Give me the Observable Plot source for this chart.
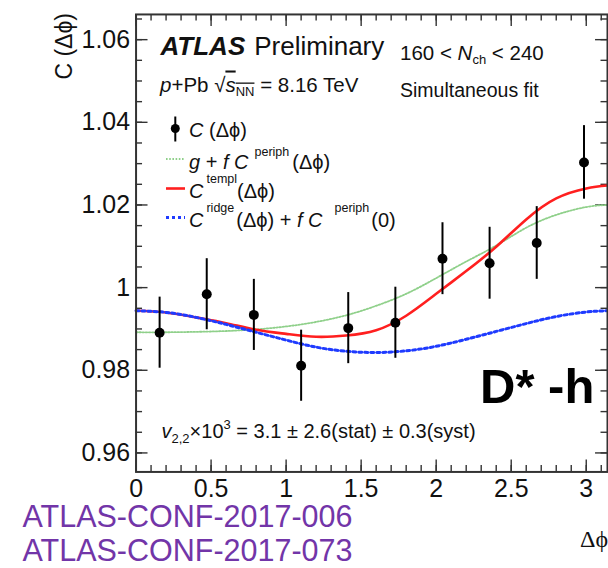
<!DOCTYPE html>
<html><head><meta charset="utf-8">
<script src="https://cdn.jsdelivr.net/npm/d3@7"></script>
<script src="https://cdn.jsdelivr.net/npm/@observablehq/plot@0.6"></script>
<style>
html,body{margin:0;padding:0;background:#fff;overflow:hidden;}
#wrap{position:relative;width:608px;height:568px;overflow:hidden;background:#fff;}
#wrap > svg{position:absolute;left:0;top:0;}
</style></head><body><div id="wrap"></div>
<script>
// ---- data ----
const binCenters = [0.157, 0.471, 0.785, 1.100, 1.414, 1.728, 2.042, 2.356, 2.670, 2.985];
const cValues    = [0.9891, 0.9984, 0.9934, 0.9811, 0.9902, 0.9915, 1.0070, 1.0059, 1.0108, 1.0303];
const cErrors    = [0.0086, 0.0086, 0.0086, 0.0086, 0.0086, 0.0086, 0.0087, 0.0087, 0.0088, 0.0089];

const curveX     = [0, 0.2, 0.4, 0.6, 0.8, 1.0, 1.2, 1.4, 1.6, 1.8, 2.0, 2.2, 2.4, 2.6, 2.8, 3.0, 3.1416];
const templ      = [0.9944, 0.9940, 0.9928, 0.9914, 0.9898, 0.9888, 0.9881, 0.9884, 0.9897, 0.9932, 0.9985, 1.0040, 1.0099, 1.0165, 1.0216, 1.0240, 1.0247];
const gPeriph    = [0.9892, 0.9892, 0.9893, 0.9895, 0.9899, 0.9906, 0.9917, 0.9933, 0.9956, 0.9985, 1.0023, 1.0063, 1.0102, 1.0145, 1.0176, 1.0195, 1.0200];
const ridge      = [0.9944, 0.9940, 0.9928, 0.9911, 0.9892, 0.9873, 0.9856, 0.9846, 0.9843, 0.9847, 0.9858, 0.9875, 0.9894, 0.9913, 0.9930, 0.9941, 0.9944];

const xTicks      = [0, 0.5, 1, 1.5, 2, 2.5, 3];
const xTickLabels = ["0", "0.5", "1", "1.5", "2", "2.5", "3"];
const yTicks      = [0.96, 0.98, 1, 1.02, 1.04, 1.06];
const yTickLabels = ["0.96", "0.98", "1", "1.02", "1.04", "1.06"];

// ---- layout ----
const W = 610, H = 568, mL = 136, mR = 1, mT = 14, mB = 95;
const innerW = W - mL - mR, innerH = H - mT - mB;
const MAJ = 12, MIN = 6.5;

// ---- build tables ----
const pts = binCenters.map((x, i) => ({x, y: cValues[i], lo: cValues[i] - cErrors[i], hi: cValues[i] + cErrors[i]}));
const mk = arr => curveX.map((x, i) => ({x, y: arr[i]}));
const xMinor = d3.range(0, 32).map(i => +(i * 0.1).toFixed(2));
const yMinor = d3.range(0, 22).map(i => +(0.96 + i * 0.005).toFixed(3));

const axisColor = "#333";
const tk = {stroke: axisColor, strokeWidth: 1.4};

const chart = Plot.plot({
  width: W, height: H,
  marginLeft: mL, marginRight: mR, marginTop: mT, marginBottom: mB,
  x: {domain: [0, Math.PI]},
  y: {domain: [0.9554, 1.0661]},
  style: {fontFamily: "'Liberation Sans', Arial, sans-serif", fontSize: "25px", color: "#111", background: "transparent"},
  marks: [
    // inward ticks (ROOT style) on all four sides
    Plot.tickX(xTicks, {x: d => d, insetTop: innerH - MAJ, ...tk}),
    Plot.tickX(xMinor, {x: d => d, insetTop: innerH - MIN, ...tk}),
    Plot.tickX(xTicks, {x: d => d, insetBottom: innerH - MAJ, ...tk}),
    Plot.tickX(xMinor, {x: d => d, insetBottom: innerH - MIN, ...tk}),
    Plot.tickY(yTicks, {y: d => d, insetRight: innerW - MAJ, ...tk}),
    Plot.tickY(yMinor, {y: d => d, insetRight: innerW - MIN, ...tk}),
    Plot.tickY(yTicks, {y: d => d, insetLeft: innerW - MAJ, ...tk}),
    Plot.tickY(yMinor, {y: d => d, insetLeft: innerW - MIN, ...tk}),
    Plot.axisX(xTicks, {anchor: "bottom", tickSize: 0, tickPadding: 7, label: null, fill: "#111", fontSize: 25,
      tickFormat: d => xTickLabels[xTicks.indexOf(d)]}),
    Plot.axisY(yTicks, {anchor: "left", tickSize: 0, tickPadding: 6, label: null, fill: "#111", fontSize: 25,
      tickFormat: d => yTickLabels[yTicks.indexOf(d)]}),
    Plot.line(mk(gPeriph), {x: "x", y: "y", curve: "natural", stroke: "#8fd08a", strokeWidth: 1.8, strokeDasharray: "1.6,1.6"}),
    Plot.line(mk(templ), {x: "x", y: "y", curve: "natural", stroke: "#ff1f1f", strokeWidth: 2.6}),
    Plot.line(mk(ridge), {x: "x", y: "y", curve: "natural", stroke: "#1f3bff", strokeWidth: 3, strokeDasharray: "3,3"}),
    Plot.ruleX(pts, {x: "x", y1: "lo", y2: "hi", stroke: "#000", strokeWidth: 2}),
    Plot.dot(pts, {x: "x", y: "y", r: 5, fill: "#000", stroke: "none"}),
    Plot.frame({stroke: axisColor, strokeWidth: 2})
  ]
});
document.getElementById("wrap").appendChild(chart);

// ---- annotations, legend, labels ----
const ann = `
<svg width="608" height="568" font-family="'Liberation Sans', Arial, sans-serif" fill="#111" style="pointer-events:none">
  <text transform="translate(72,13) rotate(-90)" text-anchor="end" font-size="23">C (Δϕ)</text>

  <text x="160.5" y="55" font-size="26"><tspan font-weight="bold" font-style="italic">ATLAS</tspan><tspan dx="9">Preliminary</tspan></text>
  <text x="400" y="60" font-size="20.5">160 &lt; <tspan font-style="italic">N</tspan><tspan font-size="13" dy="4">ch</tspan><tspan dy="-4"> &lt; 240</tspan></text>
  <text x="160" y="91.5" font-size="20.5"><tspan font-style="italic">p</tspan>+Pb √<tspan font-style="italic" text-decoration="overline">s</tspan><tspan font-size="13" dy="4" text-decoration="overline">NN</tspan><tspan dy="-4"> = 8.16 TeV</tspan></text>
  <text x="400" y="96.5" font-size="19.5">Simultaneous fit</text>

  <line x1="175.3" y1="116.5" x2="175.3" y2="141.5" stroke="#000" stroke-width="2"/>
  <circle cx="175.3" cy="128.5" r="4.5" fill="#000"/>
  <text x="189" y="136.5" font-size="20"><tspan font-style="italic">C</tspan> (Δϕ)</text>

  <line x1="166" y1="159" x2="185" y2="159" stroke="#8fd08a" stroke-width="1.8" stroke-dasharray="1.6,1.6"/>
  <text x="189" y="169" font-size="20"><tspan font-style="italic">g</tspan> + <tspan font-style="italic">f C</tspan><tspan dx="6" dy="-13" font-size="12.5">periph</tspan><tspan dx="3" dy="13">(Δϕ)</tspan></text>

  <line x1="166" y1="188.5" x2="185" y2="188.5" stroke="#ff1f1f" stroke-width="2.6"/>
  <text x="189" y="197.5" font-size="20"><tspan font-style="italic">C</tspan><tspan dx="3" dy="-15" font-size="12.5">templ</tspan><tspan dy="15">(Δϕ)</tspan></text>

  <line x1="166" y1="217.5" x2="185" y2="217.5" stroke="#1f3bff" stroke-width="3" stroke-dasharray="3,3"/>
  <text x="189" y="226.5" font-size="20"><tspan font-style="italic">C</tspan><tspan dx="3" dy="-15" font-size="12.5">ridge</tspan><tspan dx="2" dy="15">(Δϕ)</tspan> + <tspan font-style="italic">f C</tspan><tspan dx="12" dy="-15" font-size="12.5">periph</tspan><tspan dx="2" dy="15">(0)</tspan></text>

  <text x="480" y="403" font-size="49" font-weight="bold" fill="#000">D* -h</text>

  <text x="161.5" y="438" font-size="20"><tspan font-style="italic">v</tspan><tspan font-size="13" dy="5">2,2</tspan><tspan dy="-5">×10</tspan><tspan font-size="13" dy="-9">3</tspan><tspan dy="9"> = 3.1 ± 2.6(stat) ± 0.3(syst)</tspan></text>

  <text x="22.5" y="527" font-size="30.5" fill="#7235a8">ATLAS-CONF-2017-006</text>
  <text x="22.5" y="561" font-size="30.5" fill="#7235a8">ATLAS-CONF-2017-073</text>

  <text x="580" y="546.5" font-size="24" font-family="'Liberation Serif', 'DejaVu Serif', serif">Δϕ</text>
</svg>`;
document.getElementById("wrap").insertAdjacentHTML("beforeend", ann);
</script>
</body></html>
